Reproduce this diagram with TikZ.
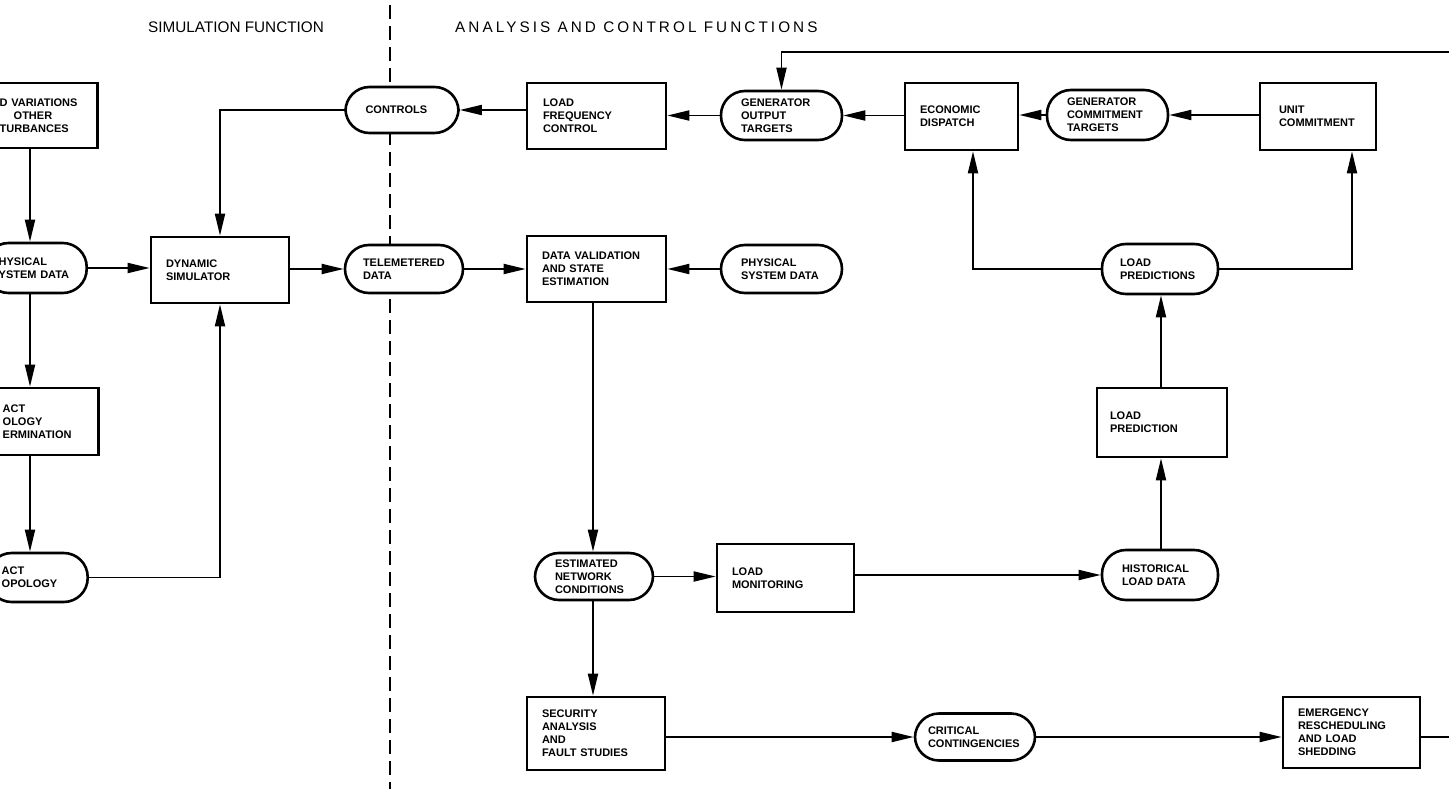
\documentclass[tikz,border=0pt]{standalone}
\usepackage{fontspec}
\setmainfont{Liberation Sans}
\usetikzlibrary{arrows.meta}
\tikzset{
  blk/.style={rectangle, draw=black, line width=2.6pt, fill=white,
              align=left, inner xsep=15pt, inner ysep=0pt,
              font=\fontsize{11}{13}\selectfont\bfseries},
  % terminal / data node with round ends
  term/.style={blk, rounded corners=24pt, inner xsep=20pt},
  ar/.style={-{Triangle[length=22pt,width=10pt]}, line width=1.8pt},
  ln/.style={line width=1.8pt},
  hdr/.style={font=\fontsize{15.3}{18}\selectfont, inner sep=0pt, anchor=west},
  sep/.style={line width=1.6pt, dash pattern=on 14pt off 7pt}
}
\begin{document}
\begin{tikzpicture}[x=1pt, y=-1pt]
  \useasboundingbox (0,0) rectangle (1449,789);
  \clip (0,0) rectangle (1449,789);

  % headings and divider
  \node[hdr] (simhd) at (148,27) {SIMULATION FUNCTION};
  \node[hdr] (acfhd) at (455,27) {\addfontfeatures{LetterSpace=20}ANALYSIS AND CONTROL FUNCTIONS};
  \draw[sep] (390,5) -- (390,789);

  % simulation side (cut at the left edge)
  \node[blk, anchor=east, text width=90pt, inner xsep=8pt, minimum height=65pt] (lv) at (99,115.5) {D VARIATIONS\\\hspace*{14pt}OTHER\\TURBANCES};
  \node[term, anchor=east, text width=74pt, inner xsep=14pt, minimum height=50pt] (psd1) at (88,268) {HYSICAL\\YSTEM DATA};
  \node[blk, anchor=east, text width=88pt, inner xsep=8pt, minimum height=67pt] (etd) at (100,421.5) {ACT\\OLOGY\\ERMINATION};
  \node[term, anchor=east, text width=72pt, inner xsep=14pt, minimum height=49pt] (et) at (89,577.5) {ACT\\OPOLOGY};
  \node[blk, text width=108pt, minimum height=66pt] (ds) at (220,270) {DYNAMIC\\SIMULATOR};
  \node[term, text width=73pt, minimum height=46pt] (controls) at (402,110) {CONTROLS};
  \node[term, text width=82pt, inner xsep=18pt, minimum height=48pt] (td) at (404,269) {TELEMETERED\\DATA};

  % analysis and control side
  \node[blk, text width=107pt, inner xsep=16pt, minimum height=66pt] (lfc) at (596.5,116) {LOAD\\FREQUENCY\\CONTROL};
  \node[term, text width=81pt, minimum height=49pt] (got) at (781.5,115.5) {GENERATOR\\OUTPUT\\TARGETS};
  \node[blk, text width=83pt, minimum height=67pt] (ed) at (961.5,116.5) {ECONOMIC\\DISPATCH};
  \node[term, text width=81pt, minimum height=50pt] (gct) at (1107.5,115) {GENERATOR\\COMMITMENT\\TARGETS};
  \node[blk, text width=78pt, inner xsep=19pt, minimum height=67pt] (uc) at (1318,116.5) {UNIT\\COMMITMENT};

  \node[blk, text width=109pt, minimum height=66pt] (dvse) at (596.5,269) {DATA VALIDATION\\AND STATE\\ESTIMATION};
  \node[term, text width=81pt, minimum height=48pt] (psd2) at (781.5,269) {PHYSICAL\\SYSTEM DATA};
  \node[term, text width=80pt, inner xsep=18pt, minimum height=50pt] (lps) at (1160,269) {LOAD\\PREDICTIONS};
  \node[blk, text width=104pt, inner xsep=13pt, minimum height=69pt] (lpb) at (1162,422.5) {LOAD\\PREDICTION};

  \node[term, text width=78pt, minimum height=47pt] (enc) at (594,576.5) {ESTIMATED\\NETWORK\\CONDITIONS};
  \node[blk, text width=107pt, minimum height=68pt] (lm) at (785.5,578) {LOAD\\MONITORING};
  \node[term, text width=76pt, minimum height=50pt] (hld) at (1160,575) {HISTORICAL\\LOAD DATA};

  \node[blk, text width=108pt, minimum height=73pt] (safs) at (596,733.5) {SECURITY\\ANALYSIS\\AND\\FAULT STUDIES};
  \node[term, text width=94pt, inner xsep=13pt, minimum height=47pt] (cc) at (975,737) {CRITICAL\\CONTINGENCIES};
  \node[blk, text width=107pt, minimum height=71pt] (em) at (1351.5,732.5) {EMERGENCY\\RESCHEDULING\\AND LOAD\\SHEDDING};

  % line columns and free ends at the page edge
  \coordinate (colL) at (30,0);
  \coordinate (colE) at (593,0);
  \coordinate (colED) at (973,0);
  \coordinate (colUC) at (1352,0);
  \coordinate (colP) at (1161,0);
  \coordinate (fbin) at (1449,52);
  \coordinate (fbout) at (1449,737);

  % simulation connectors
  \draw[ar] (lv.south -| colL) -- (psd1.north -| colL);
  \draw[ar] (psd1.south -| colL) -- (etd.north -| colL);
  \draw[ar] (etd.south -| colL) -- (et.north -| colL);
  \draw[ar] (psd1.east) -- (psd1.east -| ds.west);
  \draw[ar] (et.east) -| (ds.south);
  \draw[ar] (controls.west) -| (ds.north);
  \draw[ar] (ds.east |- td.west) -- (td.west);
  \draw[ar] (td.east) -- (td.east -| dvse.west);

  % analysis and control connectors
  \draw[ar] (psd2.west) -- (psd2.west -| dvse.east);
  \draw[ar] (lfc.west |- controls.east) -- (controls.east);
  \draw[ar] (got.west) -- (got.west -| lfc.east);
  \draw[ar] (ed.west |- got.east) -- (got.east);
  \draw[ar] (gct.west) -- (gct.west -| ed.east);
  \draw[ar] (uc.west |- gct.east) -- (gct.east);
  \draw[ar] (fbin) -| (got.north);
  \draw[ar] (lps.west) -| (ed.south -| colED);
  \draw[ar] (lps.east) -| (uc.south -| colUC);
  \draw[ar] (lpb.north -| colP) -- (lps.south -| colP);
  \draw[ar] (hld.north -| colP) -- (lpb.south -| colP);
  \draw[ar] (dvse.south -| colE) -- (enc.north -| colE);
  \draw[ar] (enc.east) -- (enc.east -| lm.west);
  \draw[ar] (lm.east |- hld.west) -- (hld.west);
  \draw[ar] (enc.south -| colE) -- (safs.north -| colE);
  \draw[ar] (safs.east |- cc.west) -- (cc.west);
  \draw[ar] (cc.east) -- (cc.east -| em.west);
  \draw[ln] (em.east |- cc.east) -- (fbout);
\end{tikzpicture}
\end{document}
